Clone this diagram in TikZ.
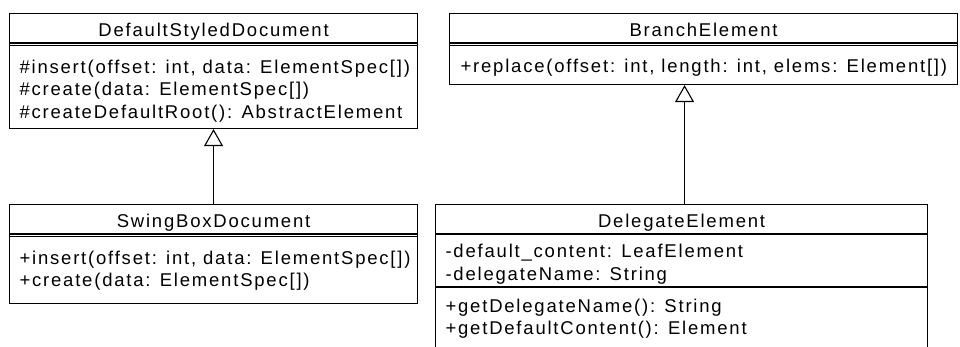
\documentclass[tikz,border=0pt]{standalone}
\usepackage{fontspec}
\setmainfont{Liberation Sans}[LetterSpace=9.7]
\usepackage{tikz}
\usetikzlibrary{arrows.meta}
\tikzset{>=latex}
\tikzstyle{classbox} = [draw, anchor=north west, inner sep=0]
\tikzstyle{ctitle} = [anchor=base, inner sep=0]
\tikzstyle{members} = [anchor=base west, align=left, inner sep=0]
\tikzstyle{gen} = [-{Triangle[open, length=17pt, width=19pt]}]

\begin{document}
\begin{tikzpicture}[x=1pt, y=-1pt, line width=1.1pt, font=\fontsize{18.5}{22.5}\selectfont]
\useasboundingbox (0,0) rectangle (960,347);
\clip (0,0) rectangle (960,347);
% class boxes
\node [classbox, minimum width=408, minimum height=115] (dsd) at (9,13) {};
\node [classbox, minimum width=408, minimum height=99] (swing) at (9,204) {};
\node [classbox, minimum width=508, minimum height=71] (branch) at (449,13) {};
\node [classbox, minimum width=492, minimum height=170] (deleg) at (435,204) {};
% names
\node [ctitle] (dsdT) at ([yshift=-24pt]dsd.north) {DefaultStyledDocument};
\node [ctitle] (swingT) at ([yshift=-24pt]swing.north) {SwingBoxDocument};
\node [ctitle] (branchT) at ([yshift=-24pt]branch.north) {BranchElement};
\node [ctitle] (delegT) at ([yshift=-24pt]deleg.north) {DelegateElement};
% compartments
\draw ([yshift=-30pt]dsd.north west) -- ([yshift=-30pt]dsd.north east);
\draw ([yshift=-32.5pt]dsd.north west) -- ([yshift=-32.5pt]dsd.north east);
\draw ([yshift=-30pt]swing.north west) -- ([yshift=-30pt]swing.north east);
\draw ([yshift=-32.5pt]swing.north west) -- ([yshift=-32.5pt]swing.north east);
\draw ([yshift=-30pt]branch.north west) -- ([yshift=-30pt]branch.north east);
\draw ([yshift=-32.5pt]branch.north west) -- ([yshift=-32.5pt]branch.north east);
\draw ([yshift=-30pt]deleg.north west) -- ([yshift=-30pt]deleg.north east);
\draw ([yshift=-83pt]deleg.north west) -- ([yshift=-83pt]deleg.north east);
% members (base = last line)
\node [members] (dsdM) at ([xshift=10pt, yshift=-105.5pt]dsd.north west)
  {\#insert(offset: int, data: ElementSpec[])\\\#create(data: ElementSpec[])\\\#createDefaultRoot(): AbstractElement};
\node [members] (swingM) at ([xshift=10pt, yshift=-82.5pt]swing.north west)
  {+insert(offset: int, data: ElementSpec[])\\+create(data: ElementSpec[])};
\node [members] (branchM) at ([xshift=11pt, yshift=-59.5pt]branch.north west)
  {+replace(offset: int, length: int, elems: Element[])};
\node [members] (delegA) at ([xshift=10pt, yshift=-76pt]deleg.north west)
  {-default\_content: LeafElement\\-delegateName: String};
\node [members] (delegM) at ([xshift=10pt, yshift=-130.5pt]deleg.north west)
  {+getDelegateName(): String\\+getDefaultContent(): Element};
% generalizations
\draw [gen] (swing.north) -- (dsd.south);
\draw [gen] ([xshift=3pt]deleg.north) -- ([xshift=3pt]deleg.north |- branch.south);
\end{tikzpicture}
\end{document}
